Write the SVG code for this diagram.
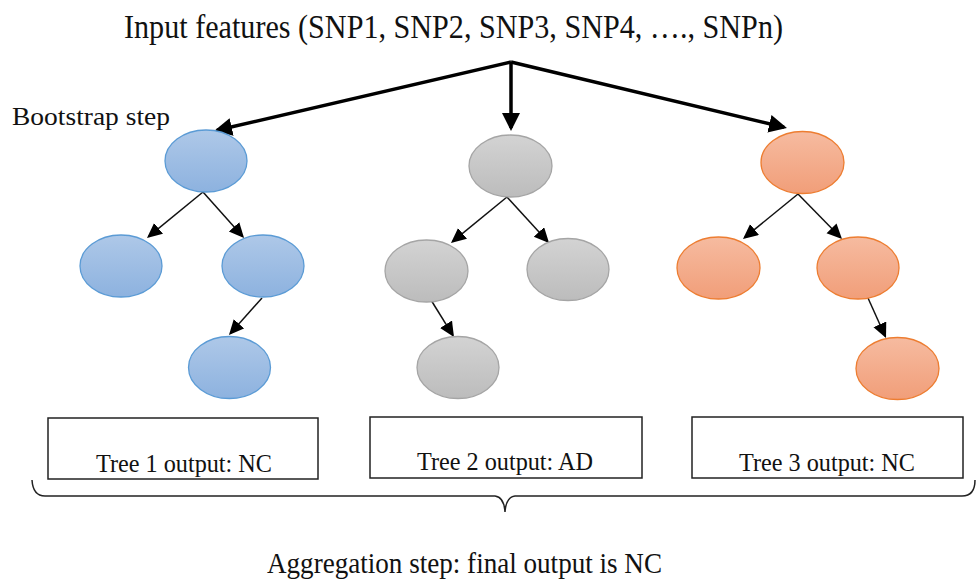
<svg xmlns="http://www.w3.org/2000/svg" width="977" height="581" viewBox="0 0 977 581">
<style>
text{font-family:"Liberation Serif","Times New Roman",serif;fill:#111}
.big{stroke:#000;stroke-width:3.5;fill:none}
.sm{stroke:#111;stroke-width:1.5;fill:none}
.blue{fill:url(#gb);stroke:#5b9bd5;stroke-width:1.3}
.gray{fill:url(#gg);stroke:#a5a5a5;stroke-width:1.3}
.orng{fill:url(#go);stroke:#ed7d31;stroke-width:1.3}
.box{fill:#fff;stroke:#222;stroke-width:1.5}
</style>
<defs>
<linearGradient id="gb" x1="0" y1="0" x2="0" y2="1"><stop offset="0" stop-color="#aec8e8"/><stop offset="1" stop-color="#8db2df"/></linearGradient>
<linearGradient id="gg" x1="0" y1="0" x2="0" y2="1"><stop offset="0" stop-color="#d3d3d3"/><stop offset="1" stop-color="#bcbcbc"/></linearGradient>
<linearGradient id="go" x1="0" y1="0" x2="0" y2="1"><stop offset="0" stop-color="#f6bba0"/><stop offset="1" stop-color="#f19e79"/></linearGradient>
<marker id="ab" markerUnits="userSpaceOnUse" markerWidth="20" markerHeight="20" refX="15" refY="9" orient="auto"><path d="M0,0 L18,9 L0,18 z" fill="#000"/></marker>
<marker id="as" markerUnits="userSpaceOnUse" markerWidth="18" markerHeight="18" refX="13" refY="7" orient="auto"><path d="M0,0 L15,7 L0,14 z" fill="#000"/></marker>
</defs>
<rect width="977" height="581" fill="#fff"/>
<text x="124" y="38" font-size="33" textLength="659" lengthAdjust="spacingAndGlyphs">Input features (SNP1, SNP2, SNP3, SNP4, …., SNPn)</text>
<text x="12" y="125" font-size="26" textLength="158" lengthAdjust="spacingAndGlyphs">Bootstrap step</text>
<g id="connectors">
<line class="big" x1="511" y1="62" x2="217" y2="130.3" marker-end="url(#ab)"/>
<line class="big" x1="511" y1="62" x2="511" y2="128" marker-end="url(#ab)"/>
<line class="big" x1="511" y1="62" x2="784" y2="127.3" marker-end="url(#ab)"/>
<line class="sm" x1="203" y1="192" x2="148.5" y2="236.7" marker-end="url(#as)"/>
<line class="sm" x1="203" y1="192" x2="242.7" y2="236.5" marker-end="url(#as)"/>
<line class="sm" x1="262" y1="298" x2="230.3" y2="333.5" marker-end="url(#as)"/>
<line class="sm" x1="507" y1="197" x2="452.5" y2="241.7" marker-end="url(#as)"/>
<line class="sm" x1="507" y1="197" x2="547.7" y2="241.5" marker-end="url(#as)"/>
<line class="sm" x1="431" y1="300" x2="452.9" y2="335.3" marker-end="url(#as)"/>
<line class="sm" x1="798" y1="194" x2="744.5" y2="237.7" marker-end="url(#as)"/>
<line class="sm" x1="798" y1="194" x2="840.6" y2="237.6" marker-end="url(#as)"/>
<line class="sm" x1="868" y1="298" x2="885.2" y2="336.2" marker-end="url(#as)"/>
</g>
<g id="t1-root"><ellipse class="blue" cx="206" cy="161" rx="41" ry="31"/></g>
<g id="t1-left"><ellipse class="blue" cx="121" cy="266" rx="41" ry="31"/></g>
<g id="t1-right"><ellipse class="blue" cx="263" cy="266" rx="41" ry="31"/></g>
<g id="t1-leaf"><ellipse class="blue" cx="229.5" cy="367.5" rx="41" ry="31"/></g>
<g id="t2-root"><ellipse class="gray" cx="510.5" cy="166" rx="41.5" ry="31"/></g>
<g id="t2-left"><ellipse class="gray" cx="426.5" cy="271" rx="41.5" ry="31"/></g>
<g id="t2-right"><ellipse class="gray" cx="568" cy="269.5" rx="41" ry="31"/></g>
<g id="t2-leaf"><ellipse class="gray" cx="458" cy="367.5" rx="41" ry="31"/></g>
<g id="t3-root"><ellipse class="orng" cx="802.5" cy="162.5" rx="41.5" ry="31"/></g>
<g id="t3-left"><ellipse class="orng" cx="718.5" cy="268" rx="41.5" ry="31"/></g>
<g id="t3-right"><ellipse class="orng" cx="858" cy="268" rx="41" ry="31"/></g>
<g id="t3-leaf"><ellipse class="orng" cx="897.5" cy="368.5" rx="41.5" ry="31"/></g>
<g id="box1"><rect class="box" x="48" y="418" width="270" height="61"/><text x="96" y="472" font-size="26" textLength="176" lengthAdjust="spacingAndGlyphs">Tree 1 output: NC</text></g>
<g id="box2"><rect class="box" x="370" y="417" width="272" height="61"/><text x="417" y="470" font-size="26" textLength="176" lengthAdjust="spacingAndGlyphs">Tree 2 output: AD</text></g>
<g id="box3"><rect class="box" x="692" y="417" width="271" height="61"/><text x="739" y="471" font-size="26" textLength="176" lengthAdjust="spacingAndGlyphs">Tree 3 output: NC</text></g>
<g id="brace"><path d="M32,480 Q33,496 45,496 L495,496 Q504,497 505,512 Q506,497 515,496 L962,496 Q975,496 975,480" fill="none" stroke="#222" stroke-width="1.5"/></g>
<text x="267" y="573" font-size="30" textLength="395" lengthAdjust="spacingAndGlyphs">Aggregation step: final output is NC</text>
</svg>
